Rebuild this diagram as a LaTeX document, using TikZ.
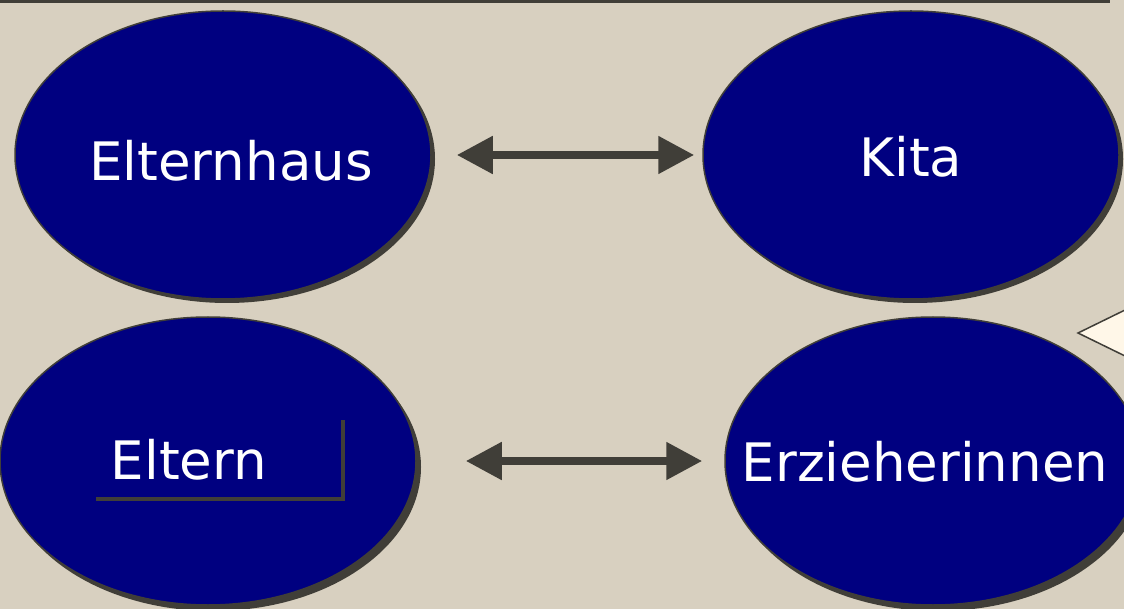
\documentclass[tikz,border=0pt]{standalone}
\usepackage{fontspec}
\setmainfont{DejaVu Sans}
\usetikzlibrary{shapes.geometric,arrows.meta}
\definecolor{bg}{RGB}{216,208,192}
\definecolor{navy}{RGB}{0,0,128}
\definecolor{dark}{RGB}{64,62,56}
\definecolor{cream}{RGB}{255,247,232}
\tikzset{
  blob/.style={ellipse, minimum width=416pt, minimum height=288pt, inner sep=0pt,
    fill=navy, draw=dark, line width=1.5pt},
  blobshadow/.style={ellipse, minimum width=416pt, minimum height=288pt, inner sep=0pt,
    fill=dark},
  lbl/.style={text=white, font=\fontsize{53}{60}\selectfont, inner sep=0pt},
  dblarrow/.style={draw=dark, line width=8pt, {Triangle[length=36pt,width=36pt]}-{Triangle[length=36pt,width=36pt]}},
}
\begin{document}
\begin{tikzpicture}[x=1pt,y=-1pt]
\fill[bg] (0,0) rectangle (1124,609);
\useasboundingbox (0,0) rectangle (1124,609);
\coordinate (tl) at (0,1.5);
\coordinate (tr) at (1110,1.5);
\draw[dark, line width=3pt] (tl) -- (tr);
% diamond at right edge
\filldraw[fill=cream, draw=dark, line width=1.5pt] (1078,333) -- (1170,288) -- (1262,333) -- (1170,378) -- cycle;
% shadows
\node[blobshadow] at (227,159) {};
\node[blobshadow] at (915,159) {};
\node[blobshadow] at (213,467) {};
\node[blobshadow] at (938,467) {};
% ellipses
\node[blob] (elternhaus) at (223,155) {};
\node[blob] (kita) at (911,155) {};
\node[blob] (eltern) at (208,461) {};
\node[blob] (erz) at (933,461) {};
% labels
\node[lbl] (t1) at (231,161) {Elternhaus};
\node[lbl] (t2) at (911,157) {Kita};
\node[lbl] (t3) at (189,460) {Eltern};
\node[lbl] (t4) at (925,462) {Erzieherinnen};
% bracket
\coordinate (b1) at (96,499);
\coordinate (b2) at (343,499);
\coordinate (b3) at (343,420);
\draw[dark, line width=4pt] (b1) -- (b2) -- (b3);
% arrows
\draw[dblarrow, shorten <=25pt, shorten >=8pt] (elternhaus.east) -- (kita.west);
\draw[dblarrow, shorten <=49pt, shorten >=22pt] (eltern.east) -- (erz.west);
\end{tikzpicture}
\end{document}
